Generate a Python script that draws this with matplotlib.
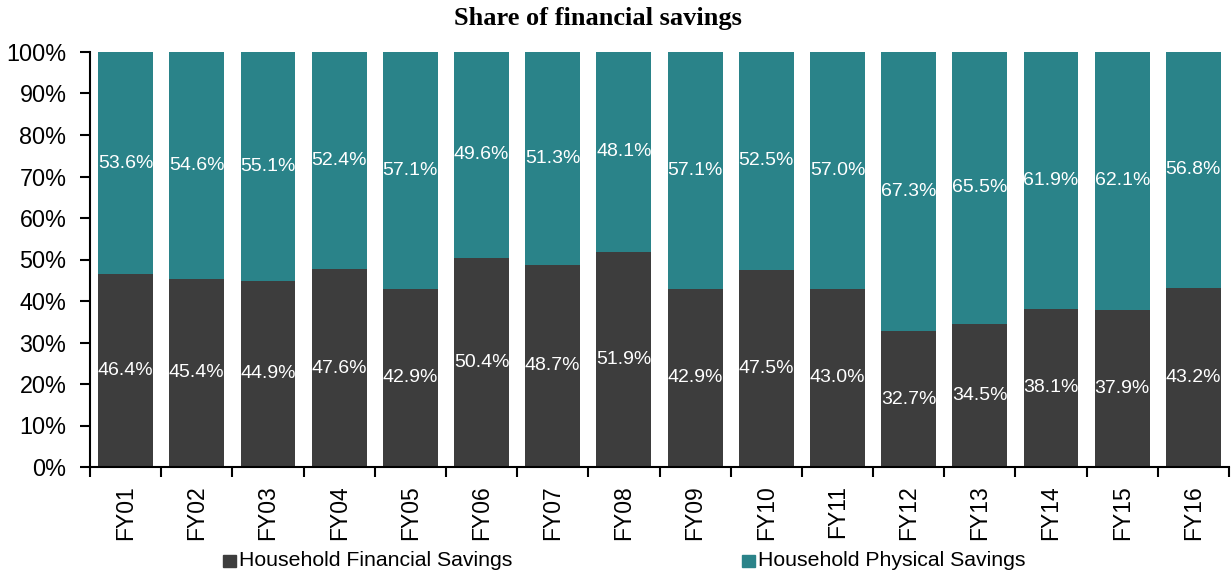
import matplotlib
matplotlib.use("Agg")
import matplotlib.pyplot as plt
from matplotlib.patches import Rectangle
import numpy as np

years = ["FY01", "FY02", "FY03", "FY04", "FY05", "FY06", "FY07", "FY08",
         "FY09", "FY10", "FY11", "FY12", "FY13", "FY14", "FY15", "FY16"]
financial = [46.4, 45.4, 44.9, 47.6, 42.9, 50.4, 48.7, 51.9,
             42.9, 47.5, 43.0, 32.7, 34.5, 38.1, 37.9, 43.2]
physical = [53.6, 54.6, 55.1, 52.4, 57.1, 49.6, 51.3, 48.1,
            57.1, 52.5, 57.0, 67.3, 65.5, 61.9, 62.1, 56.8]
yticks = [0, 10, 20, 30, 40, 50, 60, 70, 80, 90, 100]
series_names = ["Household Financial Savings", "Household Physical Savings"]

c_fin = "#3d3d3d"
c_phy = "#2a8389"
font = "Liberation Sans"
W, H = 1231, 575

fig = plt.figure(figsize=(W / 100, H / 100), dpi=100)
ax = fig.add_axes([90 / W, 1 - 467 / H, (1229 - 90) / W, (467 - 52) / H])

x = np.arange(len(years))
w = 0.77
ax.bar(x, financial, width=w, color=c_fin, zorder=2)
ax.bar(x, physical, width=w, bottom=financial, color=c_phy, zorder=2)

for xi, f, p in zip(x, financial, physical):
    ax.text(xi, f / 2, f"{f:.1f}%", ha="center", va="center", color="white",
            fontsize=14, family=font)
    ax.text(xi, f + p / 2, f"{p:.1f}%", ha="center", va="center", color="white",
            fontsize=14, family=font)

ax.set_xlim(-0.5, len(years) - 0.5)
ax.set_ylim(0, 100)
ax.set_yticks(yticks)
ax.set_yticklabels([f"{v}%" for v in yticks], fontsize=16.8, family=font)
ax.set_xticks(x)
ax.set_xticklabels(years, rotation=90, fontsize=16.5, family=font)
ax.tick_params(axis="x", which="major", length=0, pad=13)
ax.set_xticks(np.arange(-0.5, len(years), 1.0), minor=True)
ax.tick_params(axis="x", which="minor", length=7, width=1.5)
ax.tick_params(axis="y", length=7, width=1.5, pad=10)

for s in ["top", "right"]:
    ax.spines[s].set_visible(False)
ax.spines["left"].set_linewidth(1.5)
ax.spines["bottom"].set_linewidth(1.5)

fig.text(598 / W, 1 - 18 / H, "Share of financial savings", ha="center", va="center",
         fontsize=19, fontweight="bold", family="Liberation Serif")

# legend, drawn by hand
for (mx, tx), name, col in zip([(223, 239), (742, 758)], series_names, [c_fin, c_phy]):
    fig.patches.append(Rectangle((mx / W, 1 - 567 / H), 13 / W, 12 / H,
                                 transform=fig.transFigure, color=col))
    fig.text(tx / W, 1 - 561 / H, name, ha="left", va="center",
             fontsize=15.3, family=font)

fig.savefig("out.png", dpi=100)
